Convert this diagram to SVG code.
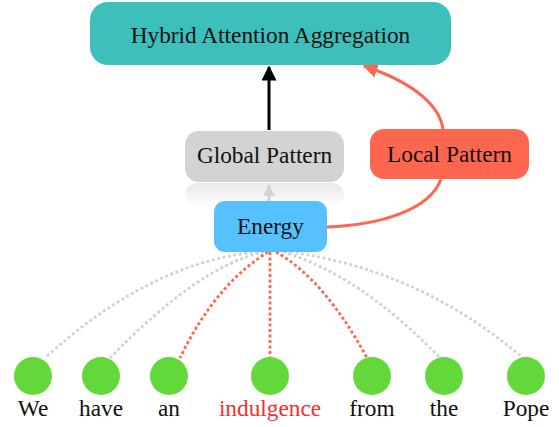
<svg xmlns="http://www.w3.org/2000/svg" width="559" height="427" viewBox="0 0 559 427">
<style>
  text { font-family: "Liberation Serif", "Times New Roman", serif; font-size: 23.3px; fill: #111; text-anchor: middle; }
  .gdot { fill: none; stroke: #D3D3D3; stroke-width: 2.8; stroke-dasharray: 3 2.5; }
  .rdot { fill: none; stroke: #FF6650; stroke-width: 2.8; stroke-dasharray: 3 2.5; }
  .word { fill: #63D83B; }
</style>
<defs>
  <linearGradient id="fade" x1="0" y1="0" x2="0" y2="1">
    <stop offset="0" stop-color="#e8e8e8"/>
    <stop offset="1" stop-color="#ffffff"/>
  </linearGradient>
  <marker id="ablack" markerWidth="5" markerHeight="5" refX="4.5" refY="2.5" orient="auto" markerUnits="strokeWidth">
    <path d="M0,0 L5,2.5 L0,5 z" fill="#000"/>
  </marker>
  <marker id="agray" markerWidth="4" markerHeight="4" refX="3.8" refY="2" orient="auto" markerUnits="strokeWidth">
    <path d="M0,0 L4,2 L0,4 z" fill="#D3D3D3"/>
  </marker>
  <marker id="ared" markerWidth="5" markerHeight="5" refX="4.5" refY="2.5" orient="auto" markerUnits="strokeWidth">
    <path d="M0,0 L5,2.5 L0,5 z" fill="#FF6650"/>
  </marker>
</defs>

<rect x="185" y="183" width="159" height="24" rx="12" fill="url(#fade)"/>

<g id="connectors">
  <path d="M269,130 L269,67" fill="none" stroke="#000" stroke-width="3" marker-end="url(#ablack)"/>
  <path d="M269,201 L269,185" fill="none" stroke="#D3D3D3" stroke-width="3" marker-end="url(#agray)"/>
  <path d="M327,227 C380,225 430,210 441,179" fill="none" stroke="#FF6650" stroke-width="3"/>
  <path d="M443,129 C440,108 418,84 364,66" fill="none" stroke="#FF6650" stroke-width="3" marker-end="url(#ared)"/>
  <path class="gdot" d="M258,252 Q150,262 45,358"/>
  <path class="gdot" d="M264,252 Q200,265 110,358"/>
  <path class="rdot" d="M268,252 Q215,285 180,358"/>
  <path class="rdot" d="M270,252 L270,357"/>
  <path class="rdot" d="M276,252 Q325,280 367,358"/>
  <path class="gdot" d="M283,252 Q360,275 440,358"/>
  <path class="gdot" d="M290,252 Q420,270 523,358"/>
</g>

<g id="node-aggregation">
  <rect x="90" y="2" width="361" height="63" rx="18" fill="#3DBFBC"/>
  <text x="270.5" y="43">Hybrid Attention Aggregation</text>
</g>
<g id="node-global">
  <rect x="185" y="131" width="159" height="51" rx="14" fill="#D3D3D3"/>
  <text x="264.5" y="163">Global Pattern</text>
</g>
<g id="node-local">
  <rect x="370" y="129" width="159" height="50" rx="14" fill="#FF6650"/>
  <text x="449.5" y="162">Local Pattern</text>
</g>
<g id="node-energy">
  <rect x="214" y="201" width="113" height="51" rx="11" fill="#56C1FE"/>
  <text x="270.5" y="234">Energy</text>
</g>

<g id="word-we"><circle class="word" cx="33" cy="376" r="19"/><text x="33" y="416">We</text></g>
<g id="word-have"><circle class="word" cx="101" cy="376" r="19"/><text x="101" y="416">have</text></g>
<g id="word-an"><circle class="word" cx="169" cy="376" r="19"/><text x="169" y="416">an</text></g>
<g id="word-indulgence"><circle class="word" cx="270" cy="376" r="19"/><text x="270" y="416" style="fill:#F52F2F">indulgence</text></g>
<g id="word-from"><circle class="word" cx="372" cy="376" r="19"/><text x="372" y="416">from</text></g>
<g id="word-the"><circle class="word" cx="444" cy="376" r="19"/><text x="444" y="416">the</text></g>
<g id="word-pope"><circle class="word" cx="526" cy="376" r="19"/><text x="526" y="416">Pope</text></g>
</svg>
